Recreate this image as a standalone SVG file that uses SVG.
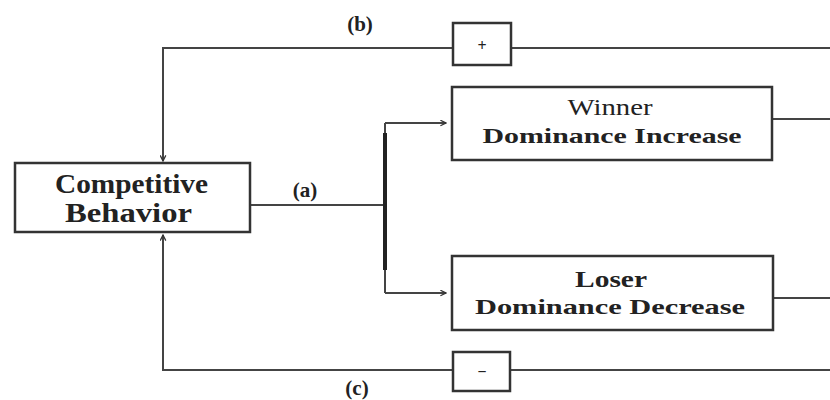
<svg xmlns="http://www.w3.org/2000/svg" width="830" height="400" viewBox="0 0 830 400">
<style>
.box{fill:#fff;stroke:#333;stroke-width:2.5}
.ln{fill:none;stroke:#444;stroke-width:2}
.t{font-family:"Liberation Serif","Times New Roman",serif;fill:#222;text-anchor:middle}
.b{font-weight:bold}
</style>
<defs>
<marker id="ah" viewBox="0 0 10 10" refX="9" refY="5" markerWidth="7" markerHeight="7" orient="auto" markerUnits="userSpaceOnUse">
<path d="M1,1 L9,5 L1,9" fill="none" stroke="#333" stroke-width="1.8"/>
</marker>
</defs>
<rect width="830" height="400" fill="#fff"/>
<g id="connectors">
<path class="ln" d="M830,48 L512,48"/>
<path class="ln" d="M453,48 L163,48 L163,161" marker-end="url(#ah)"/>
<path class="ln" d="M830,370 L511,370"/>
<path class="ln" d="M453,370 L163,370 L163,235" marker-end="url(#ah)"/>
<path class="ln" d="M251,205 L385,205"/>
<path class="ln" d="M385,123 L385,293"/>
<path fill="none" stroke="#222" stroke-width="4" d="M385,133 L385,270"/>
<path class="ln" d="M385,123 L446,123" marker-end="url(#ah)"/>
<path class="ln" d="M385,293 L446,293" marker-end="url(#ah)"/>
<path class="ln" d="M773,119 L830,119"/>
<path class="ln" d="M774,298 L830,298"/>
<text class="t b" x="360" y="31" font-size="21">(b)</text>
<text class="t b" x="305" y="197" font-size="21">(a)</text>
<text class="t b" x="357" y="395" font-size="21">(c)</text>
</g>
<g id="competitive">
<rect class="box" x="15" y="163" width="235" height="69"/>
<text class="t b" x="131.5" y="193" font-size="27" textLength="153" lengthAdjust="spacingAndGlyphs">Competitive</text>
<text class="t b" x="128.5" y="222" font-size="27" textLength="127" lengthAdjust="spacingAndGlyphs">Behavior</text>
</g>
<g id="winner">
<rect class="box" x="452" y="87" width="320" height="73"/>
<text class="t" x="610" y="115" font-size="24" textLength="85" lengthAdjust="spacingAndGlyphs">Winner</text>
<text class="t b" x="612" y="143" font-size="21" textLength="259" lengthAdjust="spacingAndGlyphs">Dominance Increase</text>
</g>
<g id="loser">
<rect class="box" x="452" y="256" width="321" height="74"/>
<text class="t b" x="611" y="287" font-size="23" textLength="72" lengthAdjust="spacingAndGlyphs">Loser</text>
<text class="t b" x="610" y="314" font-size="21" textLength="270" lengthAdjust="spacingAndGlyphs">Dominance Decrease</text>
</g>
<g id="plus">
<rect class="box" x="453" y="23" width="58" height="42"/>
<text class="t b" x="482" y="51" font-size="16">+</text>
</g>
<g id="minus">
<rect class="box" x="453" y="352" width="57" height="39"/>
<text class="t b" x="482" y="377" font-size="16">−</text>
</g>
</svg>
